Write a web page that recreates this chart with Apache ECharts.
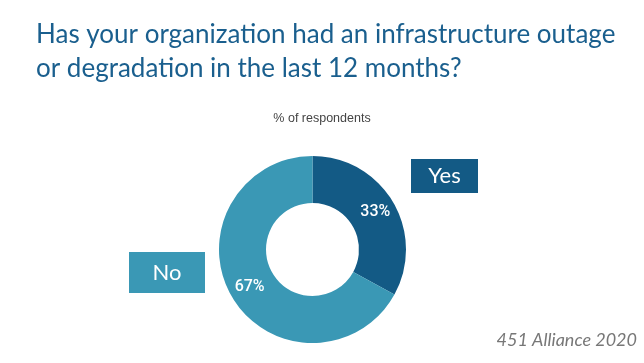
<!DOCTYPE html>
<html><head><meta charset="utf-8">
<script src="https://cdn.jsdelivr.net/npm/echarts@6/dist/echarts.min.js"></script>
<style>html,body{margin:0;padding:0;background:#fff}#c{width:644px;height:363px}</style>
</head><body><div id="c"></div>
<script>
const categories = ['Yes', 'No'];
const values = [33, 67];
const colors = ['#135a85', '#3a98b5'];
const titleText = 'Has your organization had an infrastructure outage\nor degradation in the last 12 months?';
const subtitleText = '% of respondents';
const sourceText = '451 Alliance 2020';

const chart = echarts.init(document.getElementById('c'));
chart.setOption({
  animation: false,
  title: [{
    text: titleText, left: 31, top: 13,
    textStyle: { fontFamily: 'Lato', fontWeight: 'normal', fontSize: 26, color: '#1a5f8e', lineHeight: 34 }
  }, {
    text: subtitleText, left: 'center', top: 107,
    textStyle: { fontFamily: 'Liberation Sans', fontWeight: 'normal', fontSize: 12.5, color: '#444' }
  }],
  graphic: [
    { type: 'rect', shape: { x: 411, y: 159, width: 67, height: 34 }, style: { fill: colors[0] } },
    { type: 'text', x: 444.5, y: 176, style: { text: categories[0], fill: '#fff', font: '22px Lato', align: 'center', verticalAlign: 'middle' } },
    { type: 'rect', shape: { x: 129, y: 252, width: 76, height: 41 }, style: { fill: colors[1] } },
    { type: 'text', x: 167, y: 273, style: { text: categories[1], fill: '#fff', font: '22px Lato', align: 'center', verticalAlign: 'middle' } },
    { type: 'text', right: 7, top: 331, style: { text: sourceText, fill: '#777', font: 'italic 18px Lato', align: 'right' } }
  ],
  series: [{
    type: 'pie',
    center: [312.5, 249.5],
    radius: [46.5, 93.5],
    startAngle: 90,
    clockwise: true,
    label: { show: true, position: 'inside', formatter: '{c}%', color: '#fff', fontSize: 16, fontFamily: 'Roboto', fontWeight: 500 },
    labelLine: { show: false },
    emphasis: { disabled: true },
    data: categories.map((n, i) => ({ name: n, value: values[i], itemStyle: { color: colors[i] } }))
  }]
});
</script></body></html>
